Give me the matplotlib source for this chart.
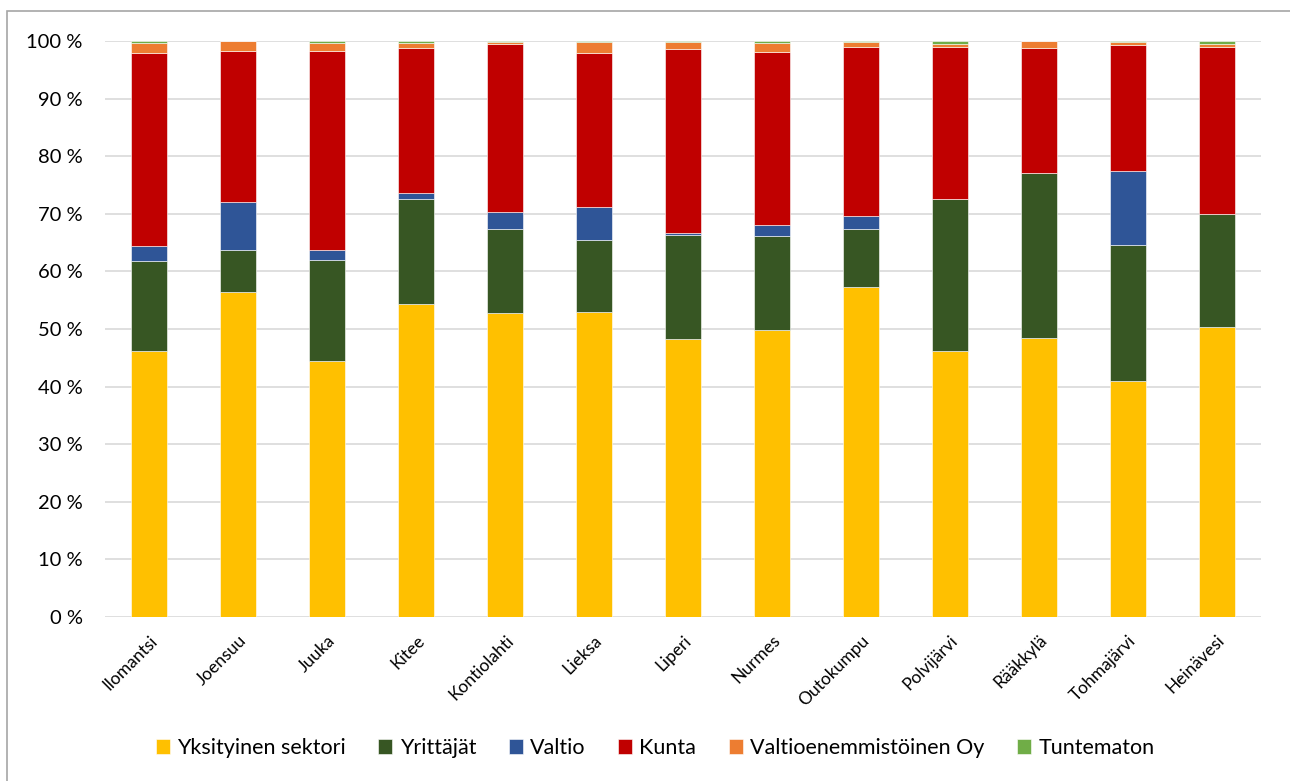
import numpy as np
import matplotlib.pyplot as plt
from matplotlib.patches import Rectangle

# Datos (osuudet, %)
kunnat = ["Ilomantsi", "Joensuu", "Juuka", "Kitee", "Kontiolahti", "Lieksa", "Liperi",
          "Nurmes", "Outokumpu", "Polvijärvi", "Rääkkylä", "Tohmajärvi", "Heinävesi"]

yksityinen = [46.2, 56.5, 44.5, 54.3, 52.8, 52.9, 48.2, 49.9, 57.3, 46.2, 48.4, 41.0, 50.4]
yrittajat = [15.6, 7.3, 17.4, 18.3, 14.6, 12.6, 18.2, 16.2, 10.1, 26.4, 28.6, 23.6, 19.6]
valtio = [2.6, 8.2, 1.8, 1.0, 2.9, 5.7, 0.3, 1.9, 2.2, 0.0, 0.0, 12.8, 0.0]
kunta = [33.6, 26.3, 34.6, 25.2, 29.2, 26.8, 31.9, 30.1, 29.3, 26.4, 21.8, 21.9, 29.0]
valtio_oy = [1.7, 1.7, 1.4, 0.9, 0.3, 1.8, 1.2, 1.6, 1.0, 0.5, 1.2, 0.6, 0.5]
tuntematon = [0.3, 0.0, 0.3, 0.3, 0.2, 0.2, 0.2, 0.3, 0.1, 0.5, 0.0, 0.1, 0.5]

sarjat = [
    ("Yksityinen sektori", yksityinen, "#FFC000"),
    ("Yrittäjät", yrittajat, "#375623"),
    ("Valtio", valtio, "#2F5597"),
    ("Kunta", kunta, "#C00000"),
    ("Valtioenemmistöinen Oy", valtio_oy, "#ED7D31"),
    ("Tuntematon", tuntematon, "#70AD47"),
]

plt.rcParams['font.family'] = ['Lato', 'DejaVu Sans']

fig = plt.figure(figsize=(12.9, 7.81), dpi=100)
ax = fig.add_axes([105 / 1290, 1 - 617 / 781, 1156 / 1290, 576 / 781])

x = np.arange(len(kunnat))
pohja = np.zeros(len(kunnat))
for nimi, arvot, vari in sarjat:
    arvot = np.array(arvot)
    ax.bar(x, arvot, 0.405, bottom=pohja, color=vari, label=nimi,
           edgecolor="white", linewidth=0.4, zorder=3)
    pohja += arvot

ax.set_xlim(-0.5, len(kunnat) - 0.5)
ax.set_ylim(0, 100)
ax.set_yticks(np.arange(0, 101, 10))
ax.set_yticklabels([f"{v} %" for v in range(0, 101, 10)], fontsize=14.5)
ax.set_xticks(x)
ax.set_xticklabels(kunnat, rotation=45, ha="right", rotation_mode="anchor", fontsize=12.5)
ax.tick_params(axis="both", length=0)
ax.tick_params(axis="y", pad=16)
ax.tick_params(axis="x", pad=11)

for s in ax.spines.values():
    s.set_visible(False)
ax.grid(axis="y", color="#D9D9D9", linewidth=1.2, zorder=0)
ax.set_axisbelow(True)

fig.legend(loc="center", bbox_to_anchor=(655 / 1290, 1 - 748 / 781), ncol=6,
           frameon=False, fontsize=15.5, handlelength=0.65, handleheight=0.65,
           handletextpad=0.35, columnspacing=1.5)

# Kaavion reunus (vain vasen ja ylä näkyvät)
fig.patches.append(Rectangle((7 / 1290, -0.5), 1.5, 1.5 - 11 / 781, transform=fig.transFigure,
                             fill=False, edgecolor="#A6A6A6", linewidth=1.2))

fig.savefig("out.png", dpi=100)
